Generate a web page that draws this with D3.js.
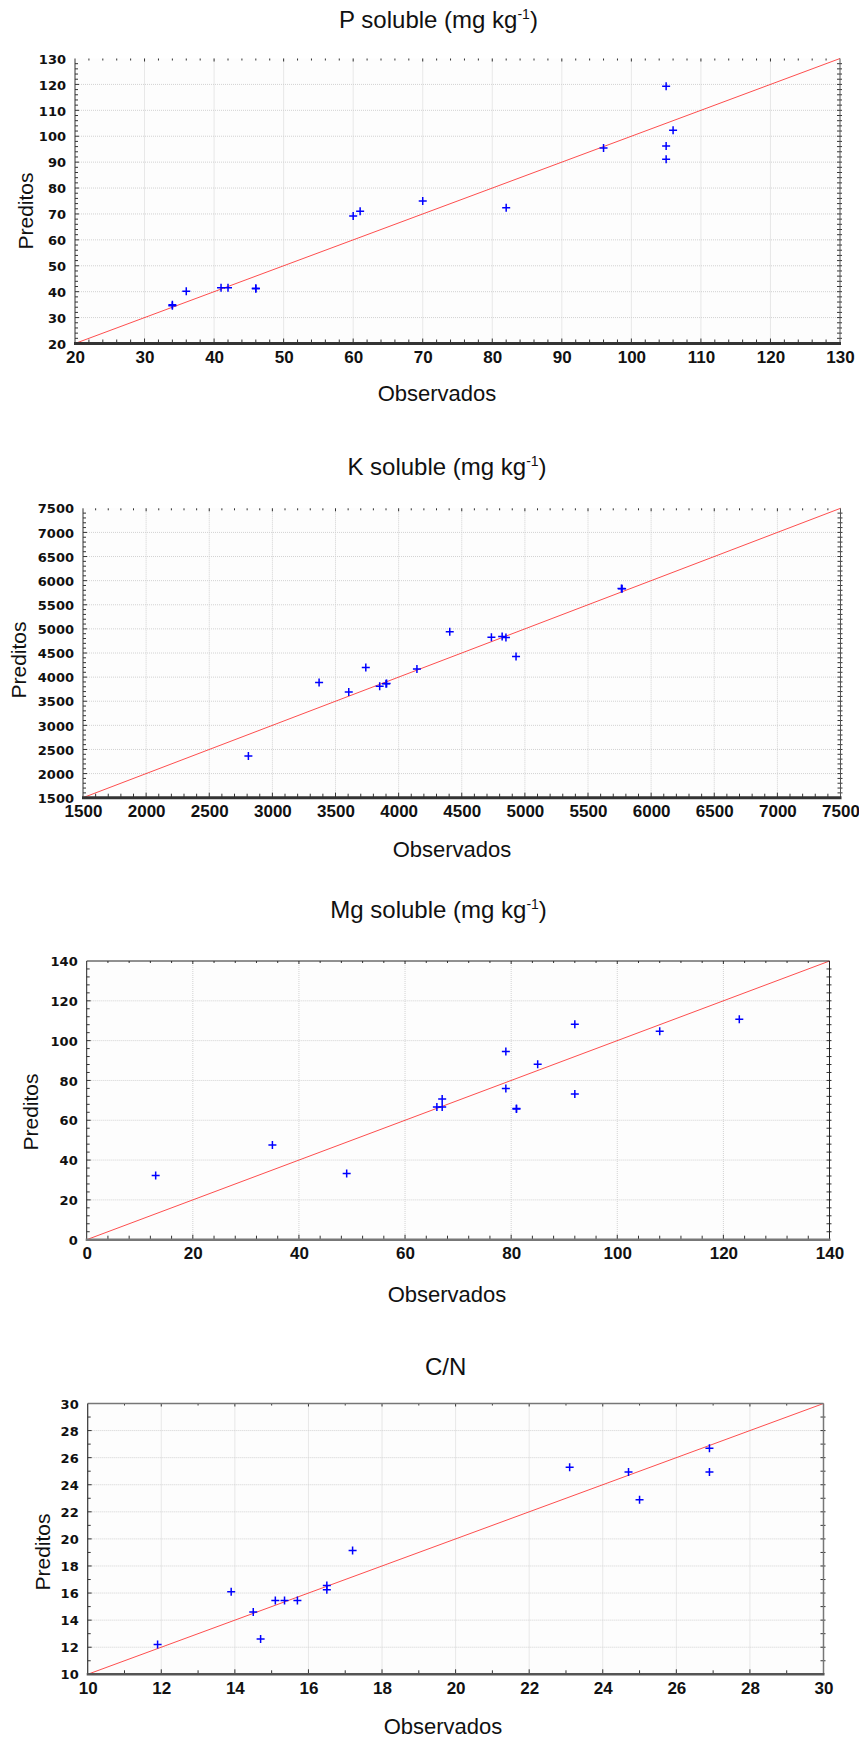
<!DOCTYPE html>
<html>
<head>
<meta charset="utf-8">
<script src="https://cdn.jsdelivr.net/npm/d3@7"></script>
<style>
  html, body { margin: 0; padding: 0; background: #ffffff; }
  svg { display: block; }
</style>
</head>
<body>
<script>
// ---------------- DATA ----------------
const pObs  = [34, 34, 36, 41, 42, 46, 46, 60, 61, 70, 82, 96, 105, 106, 105, 105];
const pPred = [35, 34.6, 40.2, 41.5, 41.5, 41.1, 41.3, 69.2, 71, 75, 72.4, 95.5, 119.3, 102.3, 96.2, 91.1];
const pTicks = [20, 30, 40, 50, 60, 70, 80, 90, 100, 110, 120, 130];

const kObs  = [2810, 3370, 3605, 3740, 3850, 3900, 3905, 4145, 4405, 4735, 4820, 4850, 4930, 5765, 5770];
const kPred = [2365, 3890, 3690, 4200, 3810, 3860, 3870, 4170, 4940, 4825, 4840, 4820, 4430, 5835, 5830];
const kTicks = [1500, 2000, 2500, 3000, 3500, 4000, 4500, 5000, 5500, 6000, 6500, 7000, 7500];

const mgObs  = [13, 35, 49, 66, 67, 67, 79, 79, 81, 81, 85, 92, 92, 108, 123];
const mgPred = [32.2, 47.6, 33.3, 66.7, 66.7, 70.7, 94.5, 75.9, 65.7, 65.9, 88.1, 108.2, 73.2, 104.7, 110.7];
const mgTicks = [0, 20, 40, 60, 80, 100, 120, 140];

const cnObs  = [11.9, 13.9, 14.5, 14.7, 15.1, 15.35, 15.7, 16.5, 16.5, 17.2, 23.1, 24.7, 25.0, 26.9, 26.9];
const cnPred = [12.2, 16.1, 14.6, 12.6, 15.45, 15.45, 15.45, 16.55, 16.25, 19.15, 25.3, 24.95, 22.9, 26.7, 24.95];
const cnTicks = [10, 12, 14, 16, 18, 20, 22, 24, 26, 28, 30];

const titles = ["P soluble (mg kg", "K soluble (mg kg", "Mg soluble (mg kg", "C/N"];
const titleSup = ["-1", "-1", "-1", ""];
const titleEnd = [")", ")", ")", ""];
const xLabel = "Observados";
const yLabel = "Preditos";
const minorSteps = [2, 100, 4, 1];

// ---------------- LAYOUT ----------------
const layout = [
  { L: 75,   R: 840,   T: 58.5,  B: 343.5,  tx: 438.5, ty: 27.7,  ox: 437, oy: 401,  px: 33, py: 211,
    frame: { top: null, right: ["#555", 1], bottom: ["#333", 3], left: ["#333", 1] } },
  { L: 83,   R: 840.5, T: 508.3, B: 797.7,  tx: 447,   ty: 475,   ox: 452, oy: 857,  px: 26, py: 660,
    frame: { top: null, right: ["#555", 1], bottom: ["#333", 3], left: ["#333", 1] } },
  { L: 86.7, R: 829.5, T: 961,   B: 1239.7, tx: 438.6, ty: 918.3, ox: 447, oy: 1301.7, px: 38, py: 1112,
    frame: { top: ["#222", 1], right: ["#222", 1], bottom: ["#777", 2.5], left: ["#222", 1] } },
  { L: 87.7, R: 823.5, T: 1403.5, B: 1674.3, tx: 445.7, ty: 1375, ox: 443, oy: 1734, px: 50, py: 1552,
    frame: { top: ["#777", 1.5], right: ["#777", 1.5], bottom: ["#555", 2.5], left: ["#333", 1.2] } }
];

const series = [
  [pObs, pPred, pTicks],
  [kObs, kPred, kTicks],
  [mgObs, mgPred, mgTicks],
  [cnObs, cnPred, cnTicks]
];

const W = 859, H = 1742;
const svg = d3.select("body").append("svg").attr("width", W).attr("height", H)
  .style("font-family", "'Liberation Sans', Arial, sans-serif");
const fmt = d3.format("d");

series.forEach(([obs, pred, ticks], i) => {
  const lay = layout[i];
  const dom = [ticks[0], ticks[ticks.length - 1]];
  const x = d3.scaleLinear().domain(dom).range([lay.L, lay.R]);
  const y = d3.scaleLinear().domain(dom).range([lay.B, lay.T]);
  const g = svg.append("g");

  // background
  g.append("rect").attr("x", lay.L).attr("y", lay.T)
    .attr("width", lay.R - lay.L).attr("height", lay.B - lay.T).attr("fill", "#fdfdfd");

  // grid
  const inner = ticks.slice(1, -1);
  g.selectAll(".gx").data(inner).join("line")
    .attr("x1", d => x(d)).attr("x2", d => x(d)).attr("y1", lay.T).attr("y2", lay.B)
    .attr("stroke", "#d2d2d2").attr("stroke-width", 1).attr("stroke-dasharray", "1,1");
  g.selectAll(".gy").data(inner).join("line")
    .attr("y1", d => y(d)).attr("y2", d => y(d)).attr("x1", lay.L).attr("x2", lay.R)
    .attr("stroke", "#d2d2d2").attr("stroke-width", 1).attr("stroke-dasharray", "1,1");

  // minor + major tick marks (inside)
  const minor = d3.range(dom[0], dom[1] + 1e-9, minorSteps[i]).filter(v => v > dom[0] && v < dom[1]);
  const isMajor = v => ticks.some(t => Math.abs(t - v) < 1e-9);
  const tickCol = "#333";
  g.selectAll(".tb").data(minor).join("line")
    .attr("x1", d => x(d)).attr("x2", d => x(d))
    .attr("y1", lay.B).attr("y2", d => lay.B - (isMajor(d) ? 5 : 4))
    .attr("stroke", tickCol).attr("stroke-width", 1);
  g.selectAll(".tt").data(minor).join("line")
    .attr("x1", d => x(d)).attr("x2", d => x(d))
    .attr("y1", lay.T).attr("y2", d => lay.T + (isMajor(d) ? 3 : 2))
    .attr("stroke", tickCol).attr("stroke-width", 1);
  g.selectAll(".tl").data(minor).join("line")
    .attr("y1", d => y(d)).attr("y2", d => y(d))
    .attr("x1", lay.L).attr("x2", d => lay.L + (isMajor(d) ? 4 : 3))
    .attr("stroke", tickCol).attr("stroke-width", 1);
  g.selectAll(".tr").data(minor).join("line")
    .attr("y1", d => y(d)).attr("y2", d => y(d))
    .attr("x1", lay.R - 3).attr("x2", lay.R + 2)
    .attr("stroke", tickCol).attr("stroke-width", 1);

  // identity line
  g.append("line")
    .attr("x1", x(dom[0])).attr("y1", y(dom[0]))
    .attr("x2", x(dom[1])).attr("y2", y(dom[1]))
    .attr("stroke", "#ff3030").attr("stroke-width", 1).attr("opacity", 0.85);

  // frame
  const f = lay.frame;
  if (f.top) g.append("line").attr("x1", lay.L).attr("x2", lay.R).attr("y1", lay.T).attr("y2", lay.T)
    .attr("stroke", f.top[0]).attr("stroke-width", f.top[1]);
  if (f.right) g.append("line").attr("x1", lay.R).attr("x2", lay.R).attr("y1", lay.T).attr("y2", lay.B)
    .attr("stroke", f.right[0]).attr("stroke-width", f.right[1]);
  g.append("line").attr("x1", lay.L).attr("x2", lay.L).attr("y1", lay.T).attr("y2", lay.B)
    .attr("stroke", f.left[0]).attr("stroke-width", f.left[1]);
  g.append("line").attr("x1", lay.L - 1).attr("x2", lay.R + 1).attr("y1", lay.B).attr("y2", lay.B)
    .attr("stroke", f.bottom[0]).attr("stroke-width", f.bottom[1]);

  // points
  const pts = obs.map((o, k) => [o, pred[k]]);
  g.selectAll(".pt").data(pts).join("path")
    .attr("d", "M-4,0H4M0,-4V4")
    .attr("transform", d => `translate(${x(d[0])},${y(d[1])})`)
    .attr("stroke", "#0000ff").attr("stroke-width", 1.5).attr("fill", "none");

  // axes labels
  const ax = g.append("g").attr("transform", `translate(0,${lay.B})`)
    .call(d3.axisBottom(x).tickValues(ticks).tickFormat(fmt).tickSize(0).tickPadding(0));
  ax.select(".domain").remove();
  ax.selectAll("text").attr("y", 19.5).attr("dy", null)
    .style("font-family", "'Liberation Sans', Arial, sans-serif")
    .style("font-size", "17px").style("font-weight", "bold").attr("fill", "#111");

  const ay = g.append("g").attr("transform", `translate(${lay.L},0)`)
    .call(d3.axisLeft(y).tickValues(ticks).tickFormat(fmt).tickSize(0).tickPadding(9));
  ay.select(".domain").remove();
  ay.selectAll("text").attr("dy", "0.36em")
    .style("font-family", "'DejaVu Sans', Verdana, sans-serif")
    .style("font-size", "13px").style("font-weight", "bold").attr("fill", "#111");

  // title
  const t = svg.append("text").attr("x", lay.tx).attr("y", lay.ty)
    .attr("text-anchor", "middle").attr("font-size", 24).attr("fill", "#111");
  t.append("tspan").text(titles[i]);
  if (titleSup[i]) {
    t.append("tspan").attr("dy", -9).attr("font-size", 14).text(titleSup[i]);
    t.append("tspan").attr("dy", 9).text(titleEnd[i]);
  }

  // x label
  svg.append("text").attr("x", lay.ox).attr("y", lay.oy)
    .attr("text-anchor", "middle").attr("font-size", 22).attr("fill", "#111").text(xLabel);

  // y label
  svg.append("text").attr("transform", `translate(${lay.px},${lay.py}) rotate(-90)`)
    .attr("text-anchor", "middle").attr("font-size", 21).attr("fill", "#111").text(yLabel);
});
</script>
</body>
</html>
